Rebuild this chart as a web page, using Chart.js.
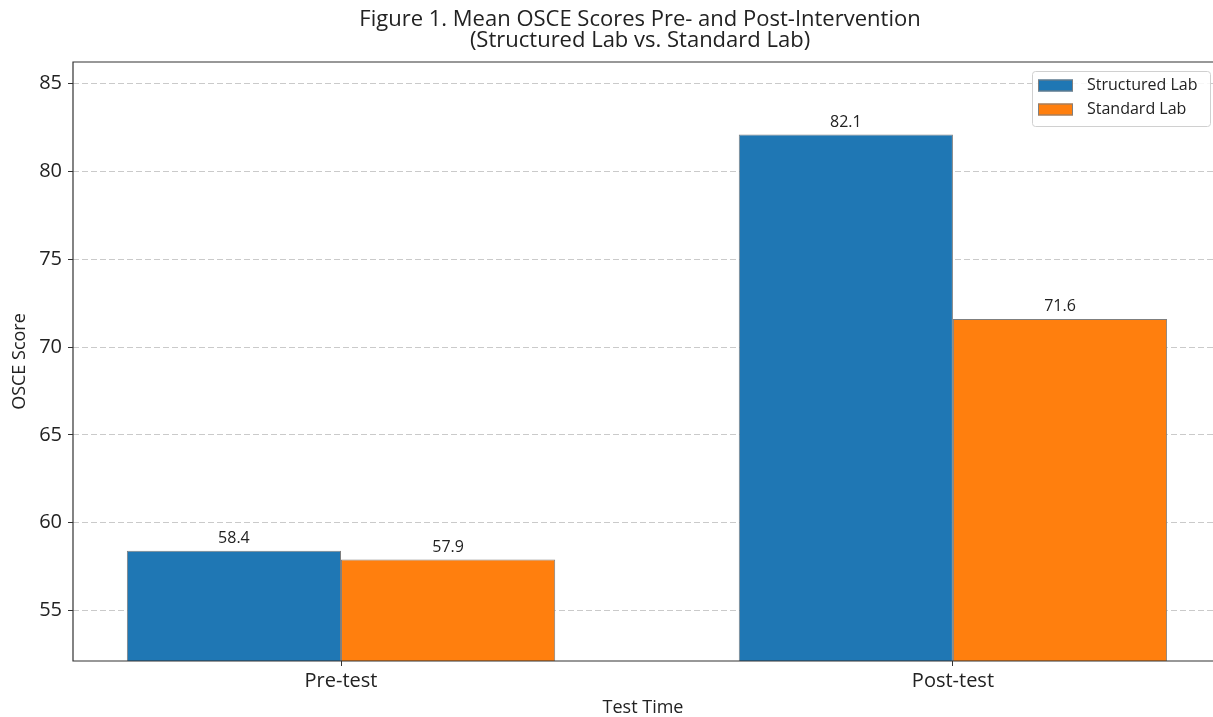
<!DOCTYPE html>
<html>
<head>
<meta charset="utf-8">
<script src="https://cdn.jsdelivr.net/npm/chart.js@4"></script>
<style>
  html, body { margin: 0; padding: 0; background: #fff; }
  #wrap { width: 1213px; height: 717px; }
</style>
</head>
<body>
<div id="wrap"><canvas id="osceChart"></canvas></div>
<script>
const categories = ['Pre-test', 'Post-test'];
const structuredLab = [58.4, 82.1];
const standardLab = [57.9, 71.6];
const seriesNames = ['Structured Lab', 'Standard Lab'];
const titleLines = ['Figure 1. Mean OSCE Scores Pre- and Post-Intervention', '(Structured Lab vs. Standard Lab)'];

const FONT = "'Open Sans', sans-serif";

// title drawn over the axes centre, like matplotlib does
const titlePlugin = {
  id: 'figTitle',
  afterDraw(chart) {
    const c = chart.ctx;
    c.save();
    c.fillStyle = '#222';
    c.font = '22px ' + FONT;
    c.textAlign = 'center';
    c.textBaseline = 'middle';
    c.fillText(titleLines[0], 640, 20);
    c.fillText(titleLines[1], 640, 41);
    c.restore();
  }
};

// frame (left, top, bottom spines)
const framePlugin = {
  id: 'frame',
  afterDraw(chart) {
    const a = chart.chartArea;
    const c = chart.ctx;
    c.save();
    c.strokeStyle = '#333';
    c.lineWidth = 1.2;
    c.beginPath();
    c.moveTo(a.right, a.top);
    c.lineTo(a.left, a.top);
    c.lineTo(a.left, a.bottom);
    c.lineTo(a.right, a.bottom);
    c.stroke();
    c.restore();
  }
};

// numbers above each bar
const valueLabels = {
  id: 'valueLabels',
  afterDatasetsDraw(chart) {
    const c = chart.ctx;
    c.save();
    c.fillStyle = '#222';
    c.font = '16px ' + FONT;
    c.textAlign = 'center';
    c.textBaseline = 'bottom';
    chart.data.datasets.forEach(function(ds, i) {
      chart.getDatasetMeta(i).data.forEach(function(bar, j) {
        c.fillText(ds.data[j].y.toFixed(1), bar.x, bar.y - 4);
      });
    });
    c.restore();
  }
};

// legend box in the upper right corner of the axes
const boxLegend = {
  id: 'boxLegend',
  afterDraw(chart) {
    const c = chart.ctx;
    const x = 1032, y = 71, w = 178, h = 55;
    c.save();
    c.fillStyle = 'rgba(255,255,255,0.85)';
    c.strokeStyle = '#d0d0d0';
    c.lineWidth = 1;
    c.beginPath();
    c.roundRect(x + 0.5, y + 0.5, w, h, 3);
    c.fill();
    c.stroke();
    c.font = '16px ' + FONT;
    c.textBaseline = 'middle';
    chart.data.datasets.forEach(function(ds, i) {
      const ry = y + 14.5 + i * 24;
      c.fillStyle = ds.backgroundColor;
      c.fillRect(x + 6, ry - 6, 35, 12);
      c.strokeStyle = ds.borderColor;
      c.strokeRect(x + 6.5, ry - 5.5, 34, 11);
      c.fillStyle = '#222';
      c.fillText(ds.label, x + 55, ry);
    });
    c.restore();
  }
};

const ctx = document.getElementById('osceChart').getContext('2d');
const osceChart = new Chart(ctx, {
  type: 'bar',
  data: {
    datasets: [{
      label: seriesNames[0],
      data: structuredLab.map((v, i) => ({ x: i, y: v })),
      backgroundColor: '#1f77b4',
      borderColor: '#7f7f7f',
      borderWidth: 1,
      borderSkipped: false
    }, {
      label: seriesNames[1],
      data: standardLab.map((v, i) => ({ x: i, y: v })),
      backgroundColor: '#ff7f0e',
      borderColor: '#7f7f7f',
      borderWidth: 1,
      borderSkipped: false
    }]
  },
  options: {
    responsive: true,
    maintainAspectRatio: false,
    animation: false,
    categoryPercentage: 0.7,
    barPercentage: 1.0,
    layout: { padding: { top: 62, right: 0, left: 0, bottom: 0 } },
    plugins: {
      legend: { display: false },
      tooltip: { enabled: false }
    },
    scales: {
      x: {
        type: 'linear',
        min: -0.438,
        max: 1.425,
        offset: false,
        afterBuildTicks(scale) {
          scale.ticks = categories.map((c, i) => ({ value: i }));
        },
        afterFit(scale) { scale.height = 56; },
        ticks: {
          callback: (v) => categories[v],
          color: '#222',
          font: { family: FONT, size: 20 },
          padding: 3,
          maxRotation: 0,
          autoSkip: false
        },
        grid: {
          offset: false,
          drawOnChartArea: false,
          drawTicks: true,
          tickLength: 5,
          tickColor: '#333',
          tickWidth: 1
        },
        border: { display: false },
        title: {
          display: true,
          text: 'Test Time',
          color: '#222',
          font: { family: FONT, size: 18, lineHeight: 1.0 },
          padding: { top: 0, bottom: 0 }
        }
      },
      y: {
        min: 52.13,
        max: 86.22,
        z: 1,
        afterFit(scale) { scale.width = 73; },
        ticks: {
          stepSize: 5,
          includeBounds: false,
          color: '#222',
          font: { family: FONT, size: 20 },
          padding: 6
        },
        grid: {
          color: 'rgba(180,180,180,0.7)',
          lineWidth: 1,
          tickLength: 5,
          tickColor: '#333',
          tickWidth: 1,
          tickBorderDash: []
        },
        border: { display: false, dash: [6, 3] },
        title: {
          display: true,
          text: 'OSCE Score',
          color: '#222',
          font: { family: FONT, size: 18 },
          padding: { top: 9, bottom: 0 }
        }
      }
    }
  },
  plugins: [titlePlugin, framePlugin, valueLabels, boxLegend]
});
</script>
</body>
</html>
